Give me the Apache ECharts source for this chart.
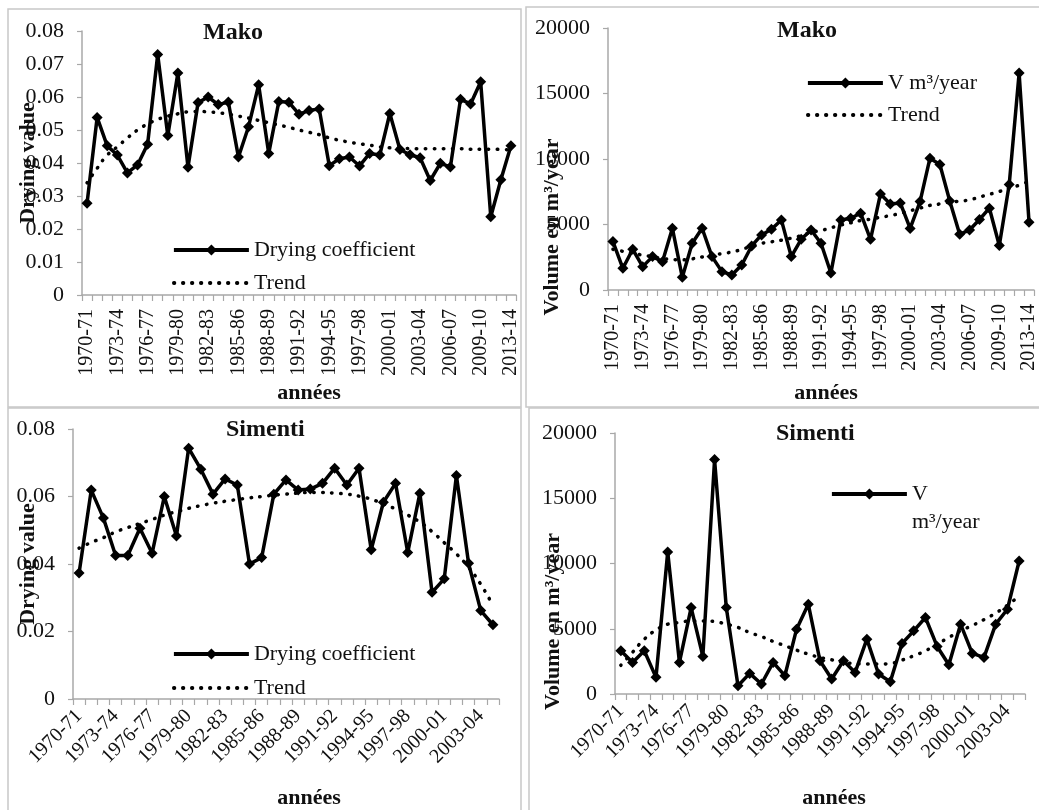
<!DOCTYPE html>
<html>
<head>
<meta charset="utf-8">
<script src="https://cdn.jsdelivr.net/npm/echarts@6/dist/echarts.min.js"></script>
<style>
html,body{margin:0;padding:0;background:#fff;}
#chart{width:1039px;height:810px;}
</style>
</head>
<body>
<div id="chart"></div>
<script>
// ---------- DATA ----------
const makoYears = ["1970-71","1971-72","1972-73","1973-74","1974-75","1975-76","1976-77","1977-78","1978-79","1979-80",
  "1980-81","1981-82","1982-83","1983-84","1984-85","1985-86","1986-87","1987-88","1988-89","1989-90",
  "1990-91","1991-92","1992-93","1993-94","1994-95","1995-96","1996-97","1997-98","1998-99","1999-00",
  "2000-01","2001-02","2002-03","2003-04","2004-05","2005-06","2006-07","2007-08","2008-09","2009-10",
  "2010-11","2011-12","2013-14"];
const simentiYears = ["1970-71","1971-72","1972-73","1973-74","1974-75","1975-76","1976-77","1977-78","1978-79","1979-80",
  "1980-81","1981-82","1982-83","1983-84","1984-85","1985-86","1986-87","1987-88","1988-89","1989-90",
  "1990-91","1991-92","1992-93","1993-94","1994-95","1995-96","1996-97","1997-98","1998-99","1999-00",
  "2000-01","2001-02","2002-03","2003-04","2004-05"];

const makoDrying = [0.0278,0.0538,0.0452,0.0424,0.0370,0.0394,0.0457,0.0729,0.0483,0.0673,
  0.0387,0.0583,0.0600,0.0577,0.0585,0.0418,0.0510,0.0637,0.0429,0.0586,
  0.0584,0.0548,0.0559,0.0564,0.0392,0.0413,0.0418,0.0391,0.0429,0.0424,
  0.0550,0.0441,0.0425,0.0416,0.0347,0.0399,0.0388,0.0593,0.0579,0.0646,
  0.0237,0.0349,0.0452];
const makoDryingTrend = [0.0340,0.0384,0.0424,0.0449,0.0476,0.0500,0.0518,0.0532,0.0542,0.0549,
  0.0555,0.0556,0.0555,0.0552,0.0548,0.0542,0.0536,0.0529,0.0522,0.0515,
  0.0508,0.0500,0.0493,0.0486,0.0476,0.0469,0.0463,0.0458,0.0454,0.0449,
  0.0446,0.0445,0.0444,0.0443,0.0443,0.0443,0.0443,0.0443,0.0442,0.0442,
  0.0442,0.0441,0.0440];

const makoVolume = [3694,1656,3108,1783,2548,2166,4713,968,3567,4713,
  2548,1401,1146,1911,3363,4204,4637,5350,2548,3873,
  4586,3567,1300,5350,5478,5860,3873,7320,6573,6650,
  4700,6752,10064,9580,6800,4250,4586,5380,6244,3400,
  8060,16560,5180];
const makoVolumeTrend = [3100,2950,2800,2660,2540,2400,2330,2300,2380,2520,
  2640,2780,2900,3100,3350,3560,3680,3800,3960,4150,
  4400,4540,4750,4960,5130,5300,5405,5550,5680,5850,
  6050,6250,6460,6570,6700,6780,6880,7100,7300,7520,
  7760,8000,8300];

const simentiDrying = [0.0373,0.0619,0.0536,0.0425,0.0425,0.0506,0.0432,0.0600,0.0483,0.0743,
  0.0681,0.0607,0.0652,0.0634,0.0400,0.0419,0.0607,0.0649,0.0619,0.0622,
  0.0639,0.0684,0.0634,0.0684,0.0442,0.0583,0.0639,0.0434,0.0610,0.0316,
  0.0356,0.0662,0.0402,0.0262,0.0220];
const simentiDryingTrend = [0.0447,0.0464,0.0478,0.0495,0.0508,0.0520,0.0532,0.0545,0.0555,0.0565,
  0.0573,0.0580,0.0586,0.0591,0.0596,0.0600,0.0604,0.0607,0.0610,0.0612,
  0.0612,0.0610,0.0607,0.0601,0.0592,0.0578,0.0563,0.0545,0.0524,0.0496,
  0.0463,0.0430,0.0390,0.0340,0.0277];

const simentiVolume = [3312,2420,3312,1274,10879,2420,6624,2879,17962,6624,
  637,1580,764,2420,1401,4968,6879,2548,1146,2548,
  1656,4204,1529,943,3873,4841,5860,3643,2242,5350,
  3108,2803,5350,6497,10191];
const simentiVolumeTrend = [2200,3200,4200,4900,5350,5480,5600,5600,5550,5350,
  5100,4710,4400,4030,3700,3360,3060,2800,2620,2420,
  2340,2290,2290,2340,2600,2930,3310,3820,4330,4840,
  5250,5700,6200,6800,7500];

const dryTicksTop = {min:0,max:0.08,interval:0.01};
const dryTicksBottom = {min:0,max:0.08,interval:0.02};
const volTicks = {min:0,max:20000,interval:5000};

// ---------- STYLE ----------
const FONT = "'Liberation Serif','Times New Roman',serif";
const AXC = '#a8a8a8';
const INK = '#111';

function xAx(gi, cats, rotate, margin, nameGap, namePadLeft){
  return {
    type:'category', gridIndex:gi, data:cats, boundaryGap:true,
    axisLine:{lineStyle:{color:AXC,width:1.5}},
    axisTick:{show:true,interval:0,length:6,lineStyle:{color:AXC,width:1.2}},
    axisLabel:{interval:2,rotate:rotate,margin:margin,color:INK,fontFamily:FONT,fontSize:20},
    splitLine:{show:false},
    name:'années', nameLocation:'middle', nameGap:nameGap, nameMoveOverlap:false,
    nameTextStyle:{fontFamily:FONT,fontSize:22,fontWeight:'bold',color:INK,padding:[0,0,0,namePadLeft]}
  };
}
function yAx(gi, t, name, nameGap, shiftDown){
  return {
    type:'value', gridIndex:gi, min:t.min, max:t.max, interval:t.interval,
    axisLine:{show:true,lineStyle:{color:AXC,width:1.5}},
    axisTick:{show:true,length:5,lineStyle:{color:AXC,width:1.2}},
    axisLabel:{margin:18,color:INK,fontFamily:FONT,fontSize:22,formatter:function(v){return String(+v.toFixed(4));}},
    splitLine:{show:false},
    name:name, nameLocation:'middle', nameRotate:90, nameGap:nameGap, nameMoveOverlap:false,
    nameTextStyle:{fontFamily:FONT,fontSize:22,fontWeight:'bold',color:INK,padding:[0,2*shiftDown,0,0]}
  };
}
function mainSeries(name, xi, data){
  return {type:'line', name:name, xAxisIndex:xi, yAxisIndex:xi, data:data,
    symbol:'diamond', symbolSize:11, showAllSymbol:true,
    lineStyle:{color:'#000',width:3.5}, itemStyle:{color:'#000'}, z:3};
}
function trendSeries(xi, data){
  return {type:'line', name:'Trend', xAxisIndex:xi, yAxisIndex:xi, data:data,
    symbol:'none', smooth:true,
    lineStyle:{color:'#000',width:3.5,type:[0.5,8.5],cap:'round'}, itemStyle:{color:'#000'}, z:2};
}
const trendLegendItem = {name:'Trend', itemStyle:{color:'rgba(0,0,0,0)',borderWidth:0,opacity:0}};
function legendCfg(left, top, names, gap, extra){
  return Object.assign({
    left:left, top:top, orient:'vertical', data:names, itemWidth:75, itemHeight:14, itemGap:gap,
    selectedMode:false, padding:0,
    lineStyle:{width:3.8},
    textStyle:{fontFamily:FONT,fontSize:22,color:INK}
  }, extra||{});
}
const titleStyle = {fontFamily:FONT,fontSize:24,fontWeight:'bold',color:INK};

const option = {
  animation:false,
  backgroundColor:'#fff',
  graphic:[
    {type:'rect',shape:{x:8,y:9,width:513,height:398},style:{fill:'none',stroke:'#c8c8c8',lineWidth:1.5},silent:true,z:-1},
    {type:'rect',shape:{x:526,y:7,width:520,height:400},style:{fill:'none',stroke:'#c8c8c8',lineWidth:1.5},silent:true,z:-1},
    {type:'rect',shape:{x:8,y:408,width:513,height:410},style:{fill:'none',stroke:'#c8c8c8',lineWidth:1.5},silent:true,z:-1},
    {type:'rect',shape:{x:529,y:408,width:520,height:410},style:{fill:'none',stroke:'#c8c8c8',lineWidth:1.5},silent:true,z:-1}
  ],
  title:[
    {text:'Mako',left:203,top:21,padding:0,textStyle:titleStyle},
    {text:'Mako',left:777,top:19,padding:0,textStyle:titleStyle},
    {text:'Simenti',left:226,top:418,padding:0,textStyle:titleStyle},
    {text:'Simenti',left:776,top:422,padding:0,textStyle:titleStyle}
  ],
  legend:[
    legendCfg(172,239,['Drying coefficient',trendLegendItem],11),
    legendCfg(806,72,['V m³/year',trendLegendItem],10),
    legendCfg(172,643,['Drying coefficient',trendLegendItem],12),
    legendCfg(830,452,['V m³/year'],10,{
      formatter:function(n){return '\n' + n.replace(' ','\n');},
      textStyle:{fontFamily:FONT,fontSize:22,color:INK,lineHeight:28}
    })
  ],
  grid:[
    {left:82,top:31,width:434,height:264},
    {left:608,top:28,width:428,height:262},
    {left:73,top:429,width:426,height:270},
    {left:615,top:433,width:410,height:262}
  ],
  xAxis:[
    xAx(0, makoYears, 90, 14, 87, 20),
    xAx(1, makoYears, 90, 14, 92, 10),
    xAx(2, simentiYears, 45, 14, 88, 46),
    xAx(3, simentiYears, 45, 14, 93, 28)
  ],
  yAxis:[
    yAx(0, dryTicksTop, 'Drying value', 43, 0),
    yAx(1, volTicks, 'Volume en m³/year', 45, 68),
    yAx(2, dryTicksBottom, 'Drying value', 34, 0),
    yAx(3, volTicks, 'Volume en m³/year', 51, 58)
  ],
  series:[
    mainSeries('Drying coefficient',0,makoDrying), trendSeries(0,makoDryingTrend),
    mainSeries('V m³/year',1,makoVolume), trendSeries(1,makoVolumeTrend),
    mainSeries('Drying coefficient',2,simentiDrying), trendSeries(2,simentiDryingTrend),
    mainSeries('V m³/year',3,simentiVolume), trendSeries(3,simentiVolumeTrend)
  ]
};
const chart = echarts.init(document.getElementById('chart'), null, {renderer:'canvas'});
chart.setOption(option);
</script>
</body>
</html>
